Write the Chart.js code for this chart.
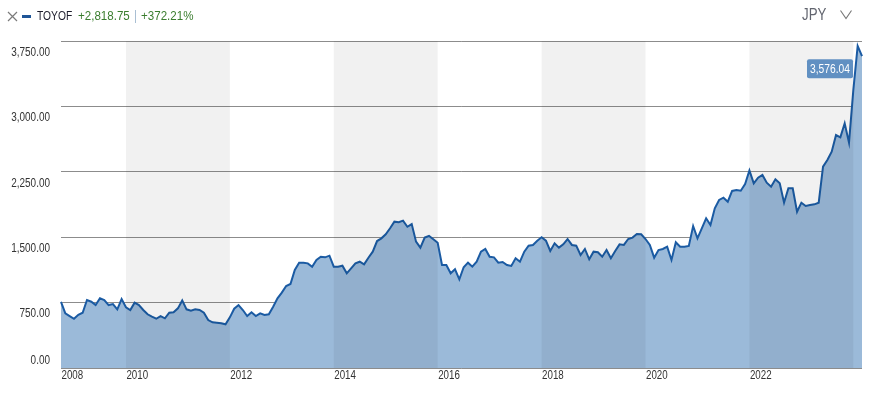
<!DOCTYPE html>
<html><head><meta charset="utf-8">
<script src="https://cdn.jsdelivr.net/npm/chart.js@4"></script>
<style>
html,body{margin:0;padding:0;background:#fff;}
#wrap{position:relative;width:869px;height:395px;overflow:hidden;}
#c{position:absolute;left:0;top:0;}
.t{position:absolute;top:6px;height:20px;line-height:20px;white-space:nowrap;font-family:"Liberation Sans",Arial,sans-serif;font-size:13px;transform-origin:0 50%;}
</style></head><body>
<div id="wrap">
<canvas id="c" width="869" height="395"></canvas>
<svg style="position:absolute;left:7px;top:11px" width="11" height="11"><path d="M1 1 L10 10 M10 1 L1 10" stroke="#7a7a7a" stroke-width="1.2" fill="none"/></svg>
<div style="position:absolute;left:22px;top:15px;width:9px;height:2.5px;background:#1f5597;"></div>
<div class="t" style="left:37px;color:#1c1c2c;transform:scaleX(0.79);">TOYOF</div>
<div class="t" style="left:78px;color:#3a7d2e;transform:scaleX(0.89);">+2,818.75</div>
<div style="position:absolute;left:135px;top:10px;width:1px;height:13px;background:#a9bfd3;"></div>
<div class="t" style="left:141px;color:#3a7d2e;transform:scaleX(0.89);">+372.21%</div>
<div class="t" style="left:802px;top:5px;color:#62656f;font-size:16px;transform:scaleX(0.83);">JPY</div>
<svg style="position:absolute;left:840px;top:10px" width="12" height="10"><polyline points="0.5,0.5 6,8.5 11.5,0.5" fill="none" stroke="#777" stroke-width="1.1"/></svg>
</div>
<script>
const startYear = 2008, startMonth = 10;
const prices = [
757.29,627,596,565,611,634,780,760,722,799,780,722,734,673,791,696,665,749,722,665,
616,588,565,596,570,634,639,684,775,673,657,673,665,634,550,524,520,512,501,581,
680,722,665,596,639,596,627,608,616,703,799,864,940,963,1124,1208,1208,1200,1162,1239,
1276,1269,1288,1162,1162,1173,1086,1143,1200,1219,1189,1265,1334,1456,1487,1533,1602,1678,1671,1690,
1620,1651,1449,1380,1495,1514,1476,1437,1181,1181,1086,1132,1017,1155,1208,1162,1219,1334,1365,1276,
1269,1208,1216,1181,1170,1258,1219,1334,1403,1411,1460,1499,1460,1342,1430,1380,1418,1479,1411,1403,
1296,1365,1246,1334,1327,1276,1353,1258,1342,1418,1411,1479,1495,1537,1533,1479,1411,1265,1353,1365,
1391,1239,1442,1391,1391,1400,1628,1487,1602,1717,1640,1831,1927,1953,1907,2030,2041,2033,2110,2265,
2118,2182,2213,2125,2079,2164,2118,1896,2061,2061,1792,1896,1858,1869,1877,1896,2309,2385,2481,2672,
2646,2806,2584,3190,3693,3576.04
];
const yTickValues = [0, 750, 1500, 2250, 3000, 3750];
const yTickLabels = ['0.00', '750.00', '1,500.00', '2,250.00', '3,000.00', '3,750.00'];
const xTickYears = ['2008', '2010', '2012', '2014', '2016', '2018', '2020', '2022'];
const bandStartYears = [2010, 2014, 2018, 2022];
const lastLabel = '3,576.04';

const months = [];
for (let i = 0; i < prices.length; i++) {
  const m = startMonth - 1 + i;
  const y = startYear + Math.floor(m / 12);
  const mm = (m % 12) + 1;
  months.push(y + '-' + String(mm).padStart(2, '0'));
}
const idxOfYear = y => months.indexOf(y + '-01');
const xTickIdx = xTickYears.map(y => Math.max(0, idxOfYear(+y)));

const FONT = '"Liberation Sans", Arial, sans-serif';
function drawText(ctx, text, x, y, size, sx, align, color) {
  ctx.save();
  ctx.translate(x, y);
  ctx.scale(sx, 1);
  ctx.font = size + 'px ' + FONT;
  ctx.fillStyle = color;
  ctx.textAlign = align;
  ctx.textBaseline = 'middle';
  ctx.fillText(text, 0, 0);
  ctx.restore();
}

const bands = {
  id: 'bands',
  afterDatasetsDraw(chart) {
    const {ctx, chartArea: a, scales: {x}} = chart;
    const perYear = x.getPixelForValue(12) - x.getPixelForValue(0);
    ctx.save();
    ctx.fillStyle = 'rgba(0,0,0,0.055)';
    bandStartYears.forEach(y => {
      const x0 = x.getPixelForValue(idxOfYear(y));
      const x1 = x0 + 2 * perYear;
      ctx.fillRect(x0, a.top, Math.min(x1, a.right) - x0, a.bottom - a.top);
    });
    ctx.restore();
  }
};

const labels = {
  id: 'labels',
  afterDraw(chart) {
    const {ctx, scales: {x, y}} = chart;
    yTickValues.forEach((v, i) => {
      const py = y.getPixelForValue(v) + (v === 0 ? -7.5 : 11.5);
      drawText(ctx, yTickLabels[i], 50, py, 12, 0.83, 'right', '#333');
    });
    xTickIdx.forEach((k, i) => {
      const px = Math.max(x.getPixelForValue(k), chart.chartArea.left) + 0.5;
      drawText(ctx, xTickYears[i], px, y.bottom + 8, 12.5, 0.78, 'left', '#333');
    });
    const n = prices.length - 1;
    const px = x.getPixelForValue(n);
    const py = y.getPixelForValue(prices[n]);
    const w = 46, bh = 19;
    const bx = px - 9 - w, by = py + 3;
    ctx.save();
    ctx.fillStyle = '#6190c2';
    ctx.beginPath();
    if (ctx.roundRect) ctx.roundRect(bx, by, w, bh, 2); else ctx.rect(bx, by, w, bh);
    ctx.fill();
    ctx.restore();
    drawText(ctx, lastLabel, bx + w / 2, by + bh / 2 + 0.5, 12.5, 0.82, 'center', '#fff');
  }
};

new Chart(document.getElementById('c'), {
  type: 'line',
  data: {
    labels: months,
    datasets: [{
      data: prices,
      borderColor: '#1b5ba3',
      borderWidth: 2,
      backgroundColor: '#9bbad9',
      fill: 'origin',
      pointRadius: 0,
      tension: 0
    }]
  },
  options: {
    responsive: false,
    animation: false,
    layout: { padding: { left: 61, right: 7, top: 41, bottom: 0 } },
    plugins: { legend: { display: false }, tooltip: { enabled: false } },
    scales: {
      x: {
        type: 'category',
        offset: false,
        grid: { display: false, drawTicks: false },
        border: { display: false },
        afterBuildTicks: s => { s.ticks = xTickIdx.map(v => ({ value: v })); },
        afterFit: s => { s.height = 27; },
        ticks: { display: false, autoSkip: false, maxRotation: 0 }
      },
      y: {
        min: 0, max: 3750,
        z: 1,
        afterBuildTicks: s => { s.ticks = yTickValues.map(v => ({ value: v })); },
        afterFit: s => { s.width = 0; },
        grid: { color: 'rgba(0,0,0,0.45)', lineWidth: 1, drawTicks: false },
        border: { display: false },
        ticks: { display: false }
      }
    }
  },
  plugins: [bands, labels]
});
</script>
</body></html>
